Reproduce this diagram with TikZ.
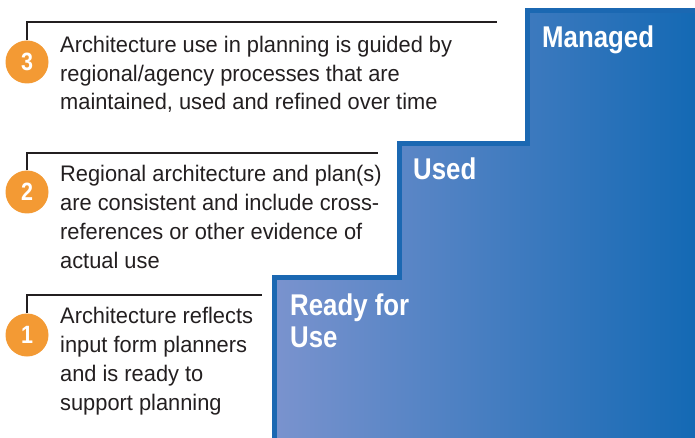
\documentclass[tikz,border=0pt]{standalone}
\usepackage{fontspec}
\setmainfont[FakeStretch=0.86]{Liberation Sans}
\newfontfamily\bodyfont[FakeStretch=0.97]{Liberation Sans}
\usepackage{tikz}
\usetikzlibrary{calc}

\definecolor{stepblue}{RGB}{27,104,178}
\definecolor{stepleft}{RGB}{122,147,206}
\definecolor{stepright}{RGB}{20,105,180}
\definecolor{markorange}{RGB}{243,154,52}
\definecolor{textgray}{RGB}{35,31,32}

\begin{document}
\begin{tikzpicture}[x=1pt, y=-1pt,
    bubble/.style={circle, fill=markorange, minimum size=43pt, inner sep=0pt,
      text=white, font=\fontsize{25}{25}\selectfont\bfseries},
    stagetext/.style={anchor=base west, align=left, inner sep=0pt, text=textgray,
      font=\bodyfont\fontsize{22.5}{28.7}\selectfont},
    stagename/.style={anchor=base west, align=left, inner sep=0pt, text=white,
      font=\fontsize{30}{32}\selectfont\bfseries},
    bracket/.style={draw=textgray, line width=2pt}]
    \useasboundingbox (0,0) rectangle (695,438);

    % 1. Treppe (Verlauf + Rand)
    \shade[left color=stepleft, right color=stepright]
      (274.5,438) -- (274.5,277.5) -- (399,277.5) -- (399,144) -- (527,144)
      -- (527,11) -- (695,11) -- (695,438) -- cycle;
    \draw[stepblue, line width=5pt]
      (274.5,440) -- (274.5,277.5) -- (399,277.5) -- (399,144) -- (527,144)
      -- (527,11) -- (697,11);

    % 2. Stufennamen (Basislinie der letzten Zeile)
    \node[stagename] (managed) at (542,48) {Managed};
    \node[stagename] (used) at (413,180) {Used};
    \node[stagename] (ready) at (290,347) {Ready for\\Use};

    % 3. Beschreibungen
    \node[bubble] (b3) at (27,62) {3};
    \node[stagetext] (t3) at (60,110) {Architecture use in planning is guided by\\
      regional/agency processes that are\\maintained, used and refined over time};
    \coordinate (e3) at (497,22);
    \draw[bracket] (b3.north) |- (e3);

    \node[bubble] (b2) at (27,192) {2};
    \node[stagetext] (t2) at (60,268) {Regional architecture and plan(s)\\
      are consistent and include cross-\\references or other evidence of\\actual use};
    \coordinate (e2) at (378,153);
    \draw[bracket] (b2.north) |- (e2);

    \node[bubble] (b1) at (27,335) {1};
    \node[stagetext] (t1) at (60,410) {Architecture reflects\\input form planners\\
      and is ready to\\support planning};
    \coordinate (e1) at (262,295);
    \draw[bracket] (b1.north) |- (e1);

\end{tikzpicture}
\end{document}
